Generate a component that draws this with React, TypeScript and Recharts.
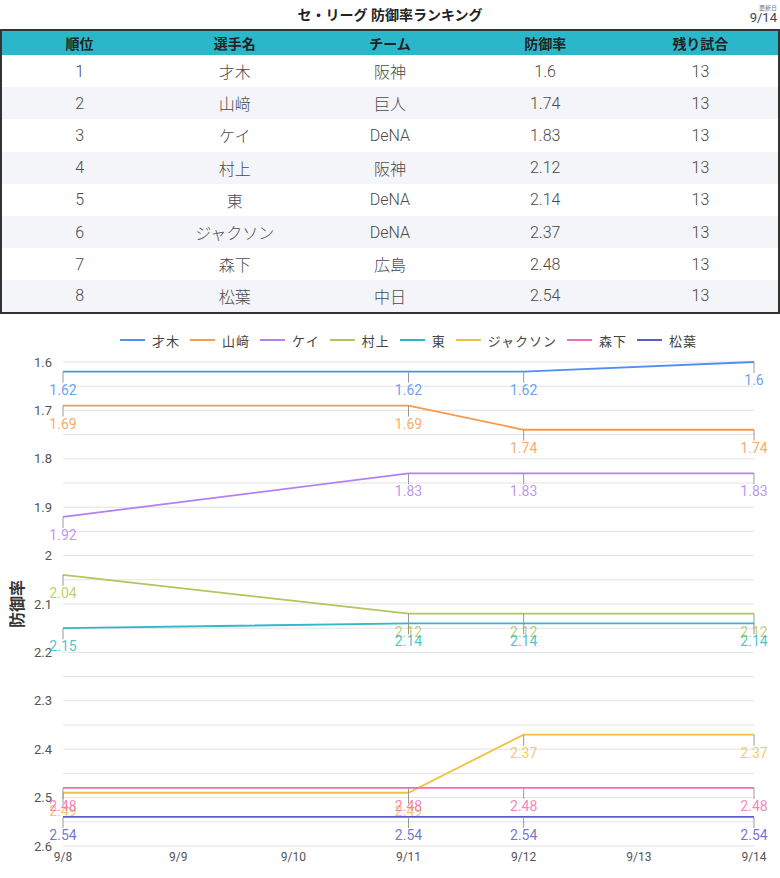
import { LineChart, Line, XAxis, YAxis, CartesianGrid, Legend } from "recharts";

const dates = ["9/8", "9/9", "9/10", "9/11", "9/12", "9/13", "9/14"];

const players = ["才木", "山﨑", "ケイ", "村上", "東", "ジャクソン", "森下", "松葉"];
const teams = ["阪神", "巨人", "DeNA", "阪神", "DeNA", "DeNA", "広島", "中日"];
const eras = [1.6, 1.74, 1.83, 2.12, 2.14, 2.37, 2.48, 2.54];
const remaining = [13, 13, 13, 13, 13, 13, 13, 13];

const saiki = [1.62, null, null, 1.62, 1.62, null, 1.6];
const yamasaki = [1.69, null, null, 1.69, 1.74, null, 1.74];
const kei = [1.92, null, null, 1.83, 1.83, null, 1.83];
const murakami = [2.04, null, null, 2.12, 2.12, null, 2.12];
const azuma = [2.15, null, null, 2.14, 2.14, null, 2.14];
const jackson = [2.49, null, null, 2.49, 2.37, null, 2.37];
const morishita = [2.48, null, null, 2.48, 2.48, null, 2.48];
const matsuba = [2.54, null, null, 2.54, 2.54, null, 2.54];

const yTicks = [1.6, 1.65, 1.7, 1.75, 1.8, 1.85, 1.9, 1.95, 2, 2.05, 2.1, 2.15, 2.2, 2.25, 2.3, 2.35, 2.4, 2.45, 2.5, 2.55, 2.6];

const seriesList = [
  { key: "s0", name: "才木", values: saiki, color: "#4f8ff0" },
  { key: "s1", name: "山﨑", values: yamasaki, color: "#f79a4c" },
  { key: "s2", name: "ケイ", values: kei, color: "#b382f0" },
  { key: "s3", name: "村上", values: murakami, color: "#b3c55c" },
  { key: "s4", name: "東", values: azuma, color: "#2fb8cb" },
  { key: "s5", name: "ジャクソン", values: jackson, color: "#efc23f" },
  { key: "s6", name: "森下", values: morishita, color: "#f06eb3" },
  { key: "s7", name: "松葉", values: matsuba, color: "#5c5ccb" },
];

const chartData = dates.map((d, i) => {
  const row: Record<string, any> = { date: d };
  seriesList.forEach((s) => {
    row[s.key] = s.values[i];
  });
  return row;
});

const font = "Roboto, 'Noto Sans CJK JP', sans-serif";

function makeLabel(color: string) {
  return (props: any) => {
    const { x, y, value, index } = props;
    if (value === null || value === undefined) return null;
    return (
      <g key={"l" + index}>
        <line x1={x} y1={y} x2={x} y2={y + 11} stroke="#999" strokeWidth={1} />
        <text x={x} y={y + 18} textAnchor="middle" dominantBaseline="central" fontSize={14} fill={color} fillOpacity={0.85} fontFamily={font}>
          {value}
        </text>
      </g>
    );
  };
}

function renderLegend() {
  return (
    <div style={{ display: "flex", justifyContent: "center", alignItems: "center", height: 24, fontFamily: font, fontSize: 13, color: "#444", letterSpacing: 1 }}>
      {seriesList.map((s) => (
        <div key={s.key} style={{ display: "flex", alignItems: "center", margin: "0 5px" }}>
          <span style={{ display: "inline-block", width: 25, height: 2, background: s.color, marginRight: 7 }} />
          <span>{s.name}</span>
        </div>
      ))}
    </div>
  );
}

function renderYLabel(props: any) {
  const vb = props.viewBox || {};
  const cy = vb.y + vb.height / 2;
  return (
    <text x={17} y={cy} transform={`rotate(-90, 17, ${cy})`} textAnchor="middle" dominantBaseline="central" fontSize={16} fontWeight="bold" fill="#333" fontFamily={font}>
      防御率
    </text>
  );
}

const cell: React.CSSProperties = { textAlign: "center", padding: 0, width: "20%" };

export default function App() {
  return (
    <div style={{ position: "absolute", left: 0, top: 0, width: 780, height: 878, background: "#fff", fontFamily: font }}>
      <div style={{ position: "absolute", top: 4, left: 0, width: 780, textAlign: "center", fontSize: 14, fontWeight: "bold", color: "#222" }}>
        セ・リーグ 防御率ランキング
      </div>
      <div style={{ position: "absolute", top: 4, right: 3, textAlign: "right", color: "#444" }}>
        <div style={{ fontSize: 6, lineHeight: "7px", color: "#777" }}>更新日</div>
        <div style={{ fontSize: 13, lineHeight: "14px" }}>9/14</div>
      </div>
      <table style={{ position: "absolute", top: 29, left: 0, width: 780, borderCollapse: "collapse", border: "2px solid #333", boxSizing: "border-box", tableLayout: "fixed" }}>
        <thead>
          <tr style={{ background: "#29b7c9", height: 25 }}>
            {["順位", "選手名", "チーム", "防御率", "残り試合"].map((h) => (
              <th key={h} style={{ ...cell, fontSize: 14, fontWeight: "bold", color: "#222" }}>{h}</th>
            ))}
          </tr>
        </thead>
        <tbody>
          {players.map((p, i) => (
            <tr key={p} style={{ height: 32.2, background: i % 2 === 1 ? "#f4f5f9" : "#fff", fontSize: 16, color: "#4a4a4a", fontWeight: 300 }}>
              <td style={cell}>{i + 1}</td>
              <td style={cell}>{p}</td>
              <td style={cell}>{teams[i]}</td>
              <td style={cell}>{eras[i]}</td>
              <td style={cell}>{remaining[i]}</td>
            </tr>
          ))}
        </tbody>
      </table>
      <div style={{ position: "absolute", top: 320, left: 0 }}>
        <LineChart width={780} height={558} data={chartData} margin={{ top: 18, right: 26, bottom: 2, left: 0 }}>
          <CartesianGrid vertical={false} stroke="#e3e3e3" />
          <XAxis dataKey="date" axisLine={false} tickLine={false} tickMargin={0} height={30} interval={0}
            tick={{ fontSize: 12, fill: "#555", fontFamily: font }} />
          <YAxis reversed domain={[1.6, 2.6]} ticks={yTicks} interval={0} axisLine={false} tickLine={false} tickMargin={5} width={63}
            tickFormatter={(v: number) => (Math.round(v * 100) % 10 === 0 ? String(v) : "")}
            tick={{ fontSize: 13, fill: "#555", fontFamily: font }} label={renderYLabel} />
          <Legend verticalAlign="top" content={renderLegend} wrapperStyle={{ top: 8, left: 63, width: 691 }} />
          {seriesList.map((s) => (
            <Line key={s.key} dataKey={s.key} name={s.name} stroke={s.color} strokeWidth={1.8} dot={false} activeDot={false}
              connectNulls type="linear" isAnimationActive={false} label={makeLabel(s.color)} />
          ))}
        </LineChart>
      </div>
    </div>
  );
}
